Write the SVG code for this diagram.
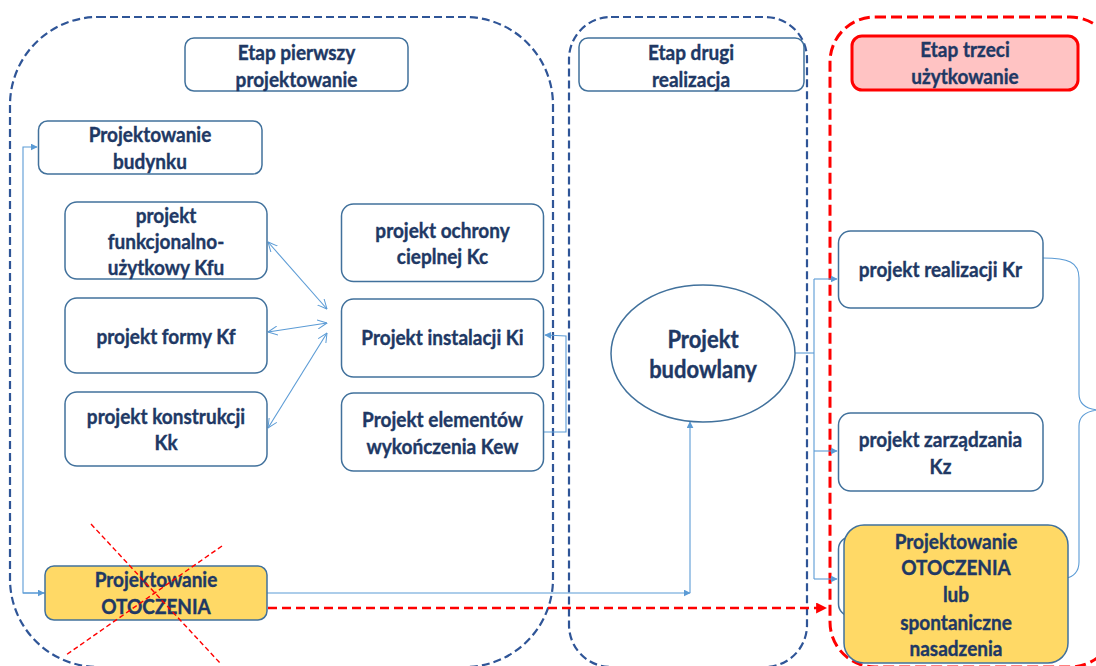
<svg xmlns="http://www.w3.org/2000/svg" width="1096" height="666" viewBox="0 0 1096 666">
  <style>
    .stage { fill: none; stroke: #2F5597; stroke-width: 2.2; stroke-dasharray: 8 4; }
    .stage-red { fill: none; stroke: #FF0000; stroke-width: 3; stroke-dasharray: 11 5; }
    .box { fill: #FFFFFF; stroke: #41719C; stroke-width: 1.5; }
    .box-y { fill: #FFD966; stroke: #41719C; stroke-width: 1.5; }
    .box-r { fill: #FFC3C3; stroke: #FF0000; stroke-width: 3; }
    .link { fill: none; stroke: #5B9BD5; stroke-width: 1.1; }
    .red-link { fill: none; stroke: #FF0000; stroke-width: 2.6; stroke-dasharray: 9 5; }
    .cross { fill: none; stroke: #FF0000; stroke-width: 1.4; stroke-dasharray: 5 3; }
    text { font-family: Lato, "Liberation Sans", sans-serif; font-weight: bold; font-size: 19px; fill: #203864; stroke: #203864; stroke-width: 0.35; text-anchor: middle; }
    .big { font-size: 22px; }
  </style>
  <defs>
    <marker id="tri" viewBox="0 0 10 10" refX="9" refY="5" markerWidth="7" markerHeight="7" orient="auto" markerUnits="userSpaceOnUse">
      <path d="M0,0 L10,5 L0,10 Z" fill="#5B9BD5"/>
    </marker>
    <marker id="vee" viewBox="0 0 10 10" refX="9.5" refY="5" markerWidth="10" markerHeight="10" orient="auto-start-reverse" markerUnits="userSpaceOnUse">
      <path d="M0,0.5 L9.5,5 L0,9.5" fill="none" stroke="#5B9BD5" stroke-width="1"/>
    </marker>
    <marker id="tri-red" viewBox="0 0 10 10" refX="9" refY="5" markerWidth="11" markerHeight="11" orient="auto" markerUnits="userSpaceOnUse">
      <path d="M0,0 L10,5 L0,10 Z" fill="#FF0000"/>
    </marker>
  </defs>

  <!-- stage frames -->
  <g id="stages">
    <rect class="stage" x="10" y="17" width="543" height="650" rx="88"/>
    <rect class="stage" x="569" y="17" width="238" height="650" rx="42"/>
    <rect class="stage-red" x="830" y="17" width="285" height="650" rx="45"/>
  </g>

  <!-- connectors -->
  <g id="connectors">
    <path class="link" d="M45,593 L23,593 L23,147 L37,147" marker-end="url(#tri)"/>
    <path class="link" d="M23,593 L44,593" marker-end="url(#tri)"/>
    <path class="link" d="M268,242 L327,309" marker-start="url(#vee)" marker-end="url(#vee)"/>
    <path class="link" d="M268,332 L327,323" marker-start="url(#vee)" marker-end="url(#vee)"/>
    <path class="link" d="M268,428 L327,333" marker-start="url(#vee)" marker-end="url(#vee)"/>
    <path class="link" d="M544,432 L566,432 L566,336 L545,335" marker-end="url(#tri)"/>
    <path class="link" d="M267,593 L690,593" marker-end="url(#tri)"/>
    <path class="link" d="M690,593 L690,422" marker-end="url(#tri)"/>
    <path class="link" d="M795,353 L814,353"/>
    <path class="link" d="M814,279 L814,579"/>
    <path class="link" d="M814,279 L837,279" marker-end="url(#tri)"/>
    <path class="link" d="M814,451 L837,451" marker-end="url(#tri)"/>
    <path class="link" d="M814,579 L837,579" marker-end="url(#tri)"/>
    <path class="link" d="M1043,258 C1068,258 1079,262 1079,278 L1079,394 C1079,404 1087,409 1098,410 M1098,410 C1087,411 1079,416 1079,426 L1079,562 C1079,572 1073,577 1066,578"/>
    <path class="red-link" d="M268,608 L826,608" marker-end="url(#tri-red)"/>
  </g>

  <!-- stage one -->
  <g id="etap-pierwszy">
    <rect class="box" x="185" y="38" width="223" height="53" rx="9"/>
    <text transform="translate(296.5,60) scale(1,1.1)">Etap pierwszy</text>
    <text transform="translate(296.5,87) scale(1,1.1)">projektowanie</text>
  </g>
  <g id="projektowanie-budynku">
    <rect class="box" x="38.5" y="121" width="223.5" height="53" rx="9"/>
    <text transform="translate(150,142) scale(1,1.1)">Projektowanie</text>
    <text transform="translate(150,169) scale(1,1.1)">budynku</text>
  </g>
  <g id="kfu">
    <rect class="box" x="65" y="202" width="202" height="77" rx="12"/>
    <text transform="translate(166,223) scale(1,1.1)">projekt</text>
    <text transform="translate(166,249) scale(1,1.1)">funkcjonalno-</text>
    <text transform="translate(166,275) scale(1,1.1)">użytkowy Kfu</text>
  </g>
  <g id="kc">
    <rect class="box" x="341.5" y="204" width="202" height="77.5" rx="12"/>
    <text transform="translate(442.5,238) scale(1,1.1)">projekt ochrony</text>
    <text transform="translate(442.5,264) scale(1,1.1)">cieplnej Kc</text>
  </g>
  <g id="kf">
    <rect class="box" x="65" y="298" width="202" height="75" rx="12"/>
    <text transform="translate(166,344) scale(1,1.1)">projekt formy Kf</text>
  </g>
  <g id="ki">
    <rect class="box" x="341.5" y="299" width="202" height="78" rx="12"/>
    <text transform="translate(442.5,345) scale(1,1.1)">Projekt instalacji Ki</text>
  </g>
  <g id="kk">
    <rect class="box" x="65" y="392" width="202" height="74" rx="12"/>
    <text transform="translate(166,424) scale(1,1.1)">projekt konstrukcji</text>
    <text transform="translate(166,450) scale(1,1.1)">Kk</text>
  </g>
  <g id="kew">
    <rect class="box" x="341.5" y="393" width="202" height="78" rx="12"/>
    <text transform="translate(442.5,427) scale(1,1.1)">Projekt elementów</text>
    <text transform="translate(442.5,454) scale(1,1.1)">wykończenia Kew</text>
  </g>
  <g id="otoczenie-1">
    <rect class="box-y" x="45" y="566" width="222" height="54" rx="9"/>
    <text transform="translate(156,587) scale(1,1.1)">Projektowanie</text>
    <text transform="translate(156,614) scale(1,1.1)">OTOCZENIA</text>
    <path class="cross" d="M91,524 L220,663 M222,546 L66,655"/>
  </g>

  <!-- stage two -->
  <g id="etap-drugi">
    <rect class="box" x="579" y="38" width="225" height="53" rx="9"/>
    <text transform="translate(691,60) scale(1,1.1)">Etap drugi</text>
    <text transform="translate(691,87) scale(1,1.1)">realizacja</text>
  </g>
  <g id="projekt-budowlany">
    <ellipse class="box" cx="703" cy="353.5" rx="92" ry="68.5"/>
    <text class="big" transform="translate(703,348) scale(1,1.1)">Projekt</text>
    <text class="big" transform="translate(703,378) scale(1,1.1)">budowlany</text>
  </g>

  <!-- stage three -->
  <g id="etap-trzeci">
    <rect class="box-r" x="852" y="36" width="226" height="54" rx="10"/>
    <text transform="translate(965,57) scale(1,1.1)">Etap trzeci</text>
    <text transform="translate(965,84) scale(1,1.1)">użytkowanie</text>
  </g>
  <g id="kr">
    <rect class="box" x="838.5" y="231" width="204.5" height="77" rx="12"/>
    <text transform="translate(940.5,277) scale(1,1.1)">projekt realizacji Kr</text>
  </g>
  <g id="kz">
    <rect class="box" x="838.5" y="413" width="204.5" height="78" rx="12"/>
    <text transform="translate(940.5,447) scale(1,1.1)">projekt zarządzania</text>
    <text transform="translate(940.5,474) scale(1,1.1)">Kz</text>
  </g>
  <g id="ukryty">
    <rect class="box" x="838.5" y="537" width="204.5" height="79" rx="12"/>
  </g>
  <g id="otoczenie-2">
    <rect class="box-y" x="844" y="525" width="224" height="138" rx="20"/>
    <text transform="translate(956,549) scale(1,1.1)">Projektowanie</text>
    <text transform="translate(956,575) scale(1,1.1)">OTOCZENIA</text>
    <text transform="translate(956,602) scale(1,1.1)">lub</text>
    <text transform="translate(956,630) scale(1,1.1)">spontaniczne</text>
    <text transform="translate(956,656) scale(1,1.1)">nasadzenia</text>
  </g>
</svg>
